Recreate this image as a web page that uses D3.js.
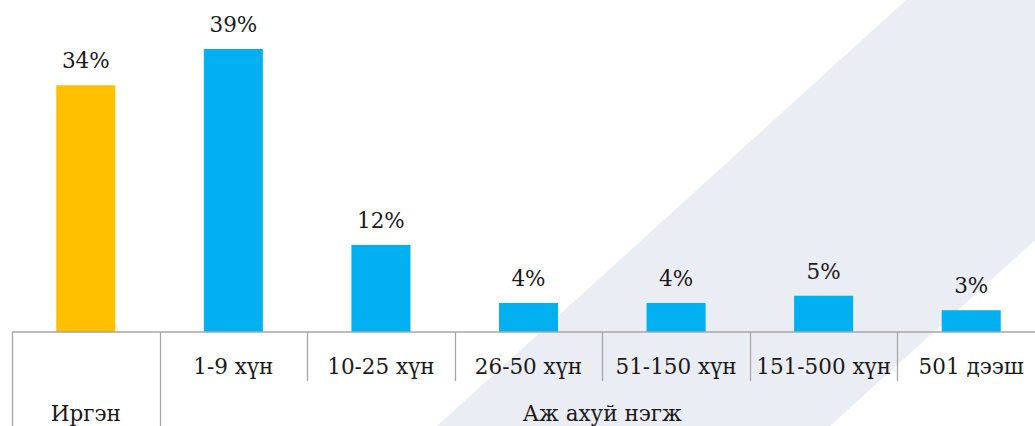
<!DOCTYPE html>
<html>
<head>
<meta charset="utf-8">
<script src="https://cdn.jsdelivr.net/npm/d3@7"></script>
<style>
  html, body { margin: 0; padding: 0; background: #fff; }
  svg { display: block; }
  text { font-family: "DejaVu Serif", serif; }
</style>
</head>
<body>
<svg id="chart" width="1035" height="426"></svg>
<script>
// Share of respondents by employer type
const categories = ["Иргэн", "1-9 хүн", "10-25 хүн", "26-50 хүн", "51-150 хүн", "151-500 хүн", "501 дээш"];
const values = [34, 39, 12, 4, 4, 5, 3];
const groups = ["Иргэн", "Аж ахуй нэгж"];
const groupOf = [0, 1, 1, 1, 1, 1, 1];
const colors = ["#FFC000", "#00B0F0"];

const W = 1035, H = 426;
const FS = 21.5;
const svg = d3.select("#chart");

const left = 12, right = 1045, base = 332;
const x = d3.scaleBand().domain(categories).range([left, right]).paddingInner(0).paddingOuter(0);
const y = d3.scaleLinear().domain([0, 39]).range([base, 49]);
const barW = x.bandwidth() * 0.4;

// diagonal background band
svg.append("polygon")
  .attr("points", "906,0 1300,0 830,426 437,426")
  .attr("fill", "#EBEDF4");

// bars
svg.selectAll("rect.bar").data(values).join("rect")
  .attr("class", "bar")
  .attr("x", (d, i) => x(categories[i]) + (x.bandwidth() - barW) / 2)
  .attr("width", barW)
  .attr("y", d => y(d))
  .attr("height", d => base - y(d))
  .attr("fill", (d, i) => colors[groupOf[i]]);

// value labels
svg.selectAll("text.val").data(values).join("text")
  .attr("class", "val")
  .attr("x", (d, i) => x(categories[i]) + x.bandwidth() / 2)
  .attr("y", d => y(d) - 17)
  .attr("text-anchor", "middle")
  .attr("font-size", FS)
  .attr("fill", "#1a1a1a")
  .text(d => d + "%");

// category axis: baseline and dividers
const axis = svg.append("g").attr("stroke", "#A6A6A6").attr("stroke-width", 1.3);
axis.append("line").attr("x1", left).attr("x2", W).attr("y1", base).attr("y2", base);
categories.forEach((c, i) => {
  const xb = Math.round(x(c)) + 0.5;
  const groupStart = i === 0 || groupOf[i] !== groupOf[i - 1];
  axis.append("line").attr("x1", xb).attr("x2", xb)
    .attr("y1", base).attr("y2", groupStart ? H : 381);
});

// sub-category labels (second group only)
svg.selectAll("text.cat").data(categories.filter((c, i) => groupOf[i] === 1)).join("text")
  .attr("class", "cat")
  .attr("x", c => x(c) + x.bandwidth() / 2)
  .attr("y", 374)
  .attr("text-anchor", "middle")
  .attr("font-size", FS)
  .attr("fill", "#1a1a1a")
  .text(c => c);

// group labels
groups.forEach((g, gi) => {
  const members = categories.filter((c, i) => groupOf[i] === gi);
  const x0 = x(members[0]);
  const x1 = x(members[members.length - 1]) + x.bandwidth();
  svg.append("text")
    .attr("x", (x0 + x1) / 2)
    .attr("y", 421)
    .attr("text-anchor", "middle")
    .attr("font-size", FS)
    .attr("fill", "#1a1a1a")
    .text(g);
});
</script>
</body>
</html>
